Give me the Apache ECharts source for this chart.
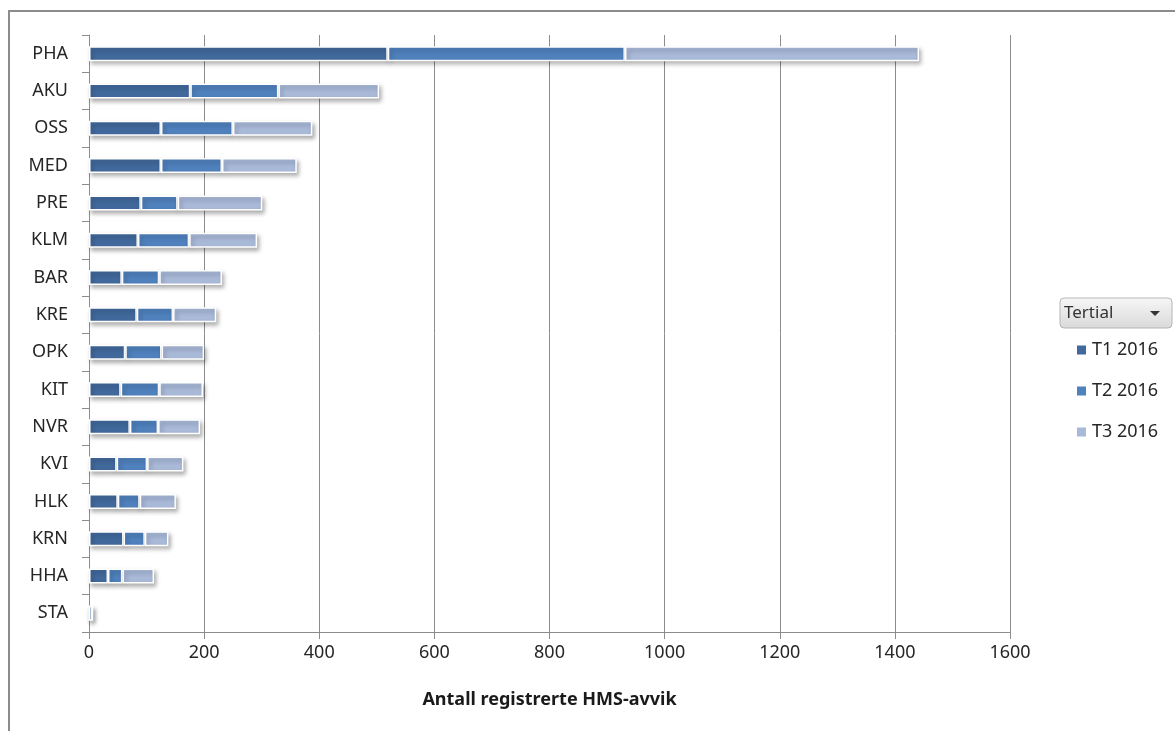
<!DOCTYPE html>
<html>
<head>
<meta charset="utf-8">
<script src="https://cdn.jsdelivr.net/npm/echarts@6/dist/echarts.min.js"></script>
<style>
  html, body { margin: 0; padding: 0; background: #fff; }
  #chart { width: 1175px; height: 731px; }
</style>
</head>
<body>
<div id="chart"></div>
<script>
// Registered HMS deviations per unit, split by tertial
const units = ['PHA', 'AKU', 'OSS', 'MED', 'PRE', 'KLM', 'BAR', 'KRE', 'OPK', 'KIT', 'NVR', 'KVI', 'HLK', 'KRN', 'HHA', 'STA'];
const t1_2016 = [519, 176, 125, 125, 90, 85, 57, 83, 63, 55, 71, 48, 50, 60, 33, 0];
const t2_2016 = [412, 153, 125, 106, 64, 89, 65, 63, 63, 67, 49, 53, 38, 37, 25, 6];
const t3_2016 = [511, 175, 138, 130, 147, 118, 109, 75, 74, 76, 73, 63, 63, 41, 55, 0];
const seriesNames = ['T1 2016', 'T2 2016', 'T3 2016'];
const seriesColors = ['#41699c', '#4f81bd', '#a9b9d8'];
const xTicks = { min: 0, max: 1600, interval: 200 };

const FONT = '"Noto Sans", "Liberation Sans", sans-serif';
const gray = '#8c8c8c';

function barSeries(name, data, color) {
  return {
    name: name,
    type: 'bar',
    stack: 'total',
    barWidth: 15,
    data: data,
    itemStyle: {
      color: color,
      borderColor: '#ffffff',
      borderWidth: 1.5,
      shadowBlur: 4,
      shadowOffsetX: 2,
      shadowOffsetY: 3,
      shadowColor: 'rgba(0,0,0,0.30)'
    },
    emphasis: { disabled: true }
  };
}

const chart = echarts.init(document.getElementById('chart'), null, { renderer: 'canvas' });
chart.setOption({
  animation: false,
  backgroundColor: '#ffffff',
  grid: { left: 89, right: 165, top: 35, bottom: 99, containLabel: false },
  xAxis: {
    type: 'value',
    min: xTicks.min,
    max: xTicks.max,
    interval: xTicks.interval,
    name: 'Antall registrerte HMS-avvik',
    nameLocation: 'middle',
    nameGap: 59,
    nameTextStyle: { fontFamily: FONT, fontSize: 18, fontWeight: 'bold', color: '#1a1a1a' },
    axisLine: { show: true, lineStyle: { color: gray, width: 1 } },
    axisTick: { show: true, length: 7, lineStyle: { color: gray } },
    axisLabel: {
      fontFamily: FONT, fontSize: 18, color: '#262626', margin: 12,
      formatter: function (v) { return String(v); }
    },
    splitLine: { show: true, lineStyle: { color: gray, width: 1 } }
  },
  yAxis: {
    type: 'category',
    data: units,
    inverse: true,
    axisLine: { show: true, lineStyle: { color: gray, width: 1 } },
    axisTick: { show: true, length: 7, alignWithLabel: false, lineStyle: { color: gray } },
    axisLabel: { fontFamily: FONT, fontSize: 18, color: '#262626', margin: 21 },
    splitLine: { show: false }
  },
  legend: {
    orient: 'vertical',
    left: 1070,
    top: 335,
    icon: 'rect',
    itemWidth: 11,
    itemHeight: 11,
    itemGap: 21,
    textStyle: { fontFamily: FONT, fontSize: 18, color: '#262626', lineHeight: 20 },
    data: seriesNames,
    selectedMode: false
  },
  graphic: [
    // outer frame (left and top edges)
    { type: 'line', shape: { x1: 9, y1: 10, x2: 9, y2: 731 }, style: { stroke: gray, lineWidth: 2 } },
    { type: 'line', shape: { x1: 9, y1: 11, x2: 1175, y2: 11 }, style: { stroke: gray, lineWidth: 2 } },
    // "Tertial" field button
    {
      type: 'rect',
      shape: { x: 1060, y: 298, width: 112, height: 30, r: 4 },
      style: {
        fill: new echarts.graphic.LinearGradient(0, 0, 0, 1, [
          { offset: 0, color: '#f7f7f7' },
          { offset: 1, color: '#d9d9d9' }
        ]),
        stroke: '#b5b5b5',
        lineWidth: 1
      }
    },
    {
      type: 'text',
      left: 1064,
      top: 305,
      style: { text: 'Tertial', fontFamily: FONT, fontSize: 17, fill: '#333333' }
    },
    {
      type: 'polygon',
      shape: { points: [[1150, 311], [1160, 311], [1155, 316]] },
      style: { fill: '#333333' }
    }
  ],
  series: [
    barSeries(seriesNames[0], t1_2016, seriesColors[0]),
    barSeries(seriesNames[1], t2_2016, seriesColors[1]),
    barSeries(seriesNames[2], t3_2016, seriesColors[2])
  ]
});
</script>
</body>
</html>
